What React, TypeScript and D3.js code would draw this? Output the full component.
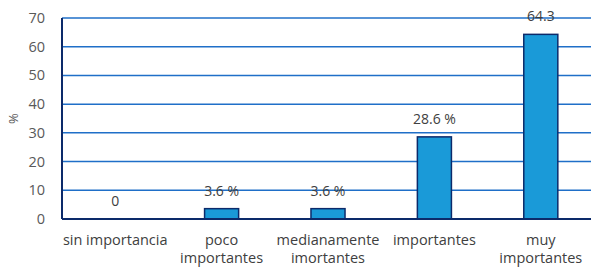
import React, { useEffect, useRef } from "react";
import * as d3 from "d3";

const categories = [
  ["sin importancia"],
  ["poco", "importantes"],
  ["medianamente", "imortantes"],
  ["importantes"],
  ["muy", "importantes"],
];
const values = [0, 3.6, 3.6, 28.6, 64.3];
const valueLabels = ["0", "3.6 %", "3.6 %", "28.6 %", "64.3"];
const yTicks = [0, 10, 20, 30, 40, 50, 60, 70];

const App: React.FC = () => {
  const ref = useRef<SVGSVGElement | null>(null);

  useEffect(() => {
    if (!ref.current) return;
    const width = 591;
    const height = 267;
    const margin = { top: 18, right: -3, bottom: 48, left: 62 };

    const svg = d3.select(ref.current);
    svg.selectAll("*").remove();
    svg.attr("width", width).attr("height", height);

    const font = "'Open Sans', sans-serif";
    const textColor = "#595959";

    const x = d3
      .scaleBand<number>()
      .domain(values.map((_, i) => i))
      .range([margin.left, width - margin.right])
      .paddingInner(0.68)
      .paddingOuter(0.34);

    const y = d3
      .scaleLinear()
      .domain([0, 70])
      .range([height - margin.bottom, margin.top]);

    // gridlines
    svg
      .append("g")
      .selectAll("line")
      .data(yTicks.filter((t) => t > 0))
      .join("line")
      .attr("x1", margin.left)
      .attr("x2", width)
      .attr("y1", (d) => y(d))
      .attr("y2", (d) => y(d))
      .attr("stroke", "#1f6fc8")
      .attr("stroke-width", 1.5);

    // y tick labels
    svg
      .append("g")
      .selectAll("text")
      .data(yTicks)
      .join("text")
      .attr("x", 45)
      .attr("y", (d) => y(d) + 5)
      .attr("text-anchor", "end")
      .style("font-family", font)
      .style("font-size", "14.5px")
      .style("fill", textColor)
      .text((d) => d);

    // y axis title
    svg
      .append("text")
      .attr("transform", `translate(18, ${y(35)}) rotate(-90)`)
      .attr("text-anchor", "middle")
      .style("font-family", font)
      .style("font-size", "13px")
      .style("fill", textColor)
      .text("%");

    // bars
    svg
      .append("g")
      .selectAll("rect")
      .data(values.map((v, i) => ({ v, i })).filter((d) => d.v > 0))
      .join("rect")
      .attr("x", (d) => x(d.i)!)
      .attr("y", (d) => y(d.v))
      .attr("width", x.bandwidth())
      .attr("height", (d) => y(0) - y(d.v))
      .attr("fill", "#1a9ad8")
      .attr("stroke", "#0c2a6a")
      .attr("stroke-width", 1.5);

    // axes lines
    svg
      .append("line")
      .attr("x1", margin.left)
      .attr("x2", margin.left)
      .attr("y1", y(70))
      .attr("y2", y(0))
      .attr("stroke", "#0c2a6a")
      .attr("stroke-width", 2);
    svg
      .append("line")
      .attr("x1", margin.left)
      .attr("x2", width)
      .attr("y1", y(0))
      .attr("y2", y(0))
      .attr("stroke", "#0c2a6a")
      .attr("stroke-width", 2);

    // value labels
    svg
      .append("g")
      .selectAll("text")
      .data(values)
      .join("text")
      .attr("x", (_, i) => x(i)! + x.bandwidth() / 2)
      .attr("y", (d) => y(d) - 13)
      .attr("text-anchor", "middle")
      .style("font-family", font)
      .style("font-size", "14px")
      .style("fill", "#404040")
      .text((_, i) => valueLabels[i]);

    // category labels
    const cat = svg
      .append("g")
      .selectAll("text")
      .data(categories)
      .join("text")
      .attr("x", (_, i) => x(i)! + x.bandwidth() / 2)
      .attr("y", 245)
      .attr("text-anchor", "middle")
      .style("font-family", font)
      .style("font-size", "14.5px")
      .style("fill", "#404040");
    cat
      .selectAll("tspan")
      .data((d) => d)
      .join("tspan")
      .attr("x", function () {
        return (this.parentNode as SVGTextElement).getAttribute("x");
      })
      .attr("dy", (_, j) => (j === 0 ? 0 : 17.5))
      .text((d) => d);
  }, []);

  return (
    <svg
      ref={ref}
      style={{ position: "absolute", left: 0, top: 0, background: "#fff" }}
    ></svg>
  );
};

export default App;
